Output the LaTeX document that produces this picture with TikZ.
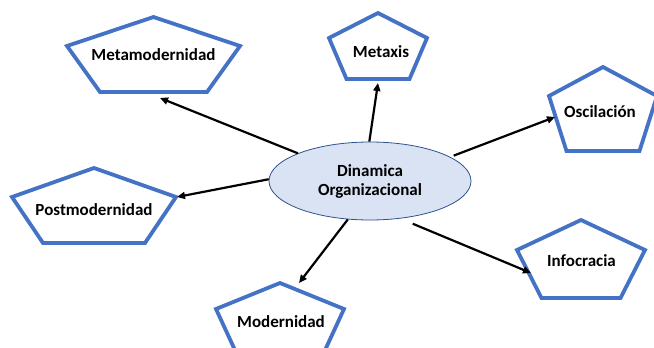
\documentclass[tikz,border=0pt]{standalone}
\usepackage{fontspec}
\setmainfont{Carlito}
\usetikzlibrary{arrows.meta,shapes.geometric}
\definecolor{pentblue}{HTML}{4472C4}
\definecolor{ellfill}{HTML}{DAE3F3}
\definecolor{elldraw}{HTML}{2F528F}
\tikzset{
  pentline/.style={draw=pentblue, line width=3.8pt, line join=miter},
  lbl/.style={font=\fontsize{17}{19}\selectfont\bfseries, text=black, inner sep=0pt},
  conn/.style={line width=2.2pt, -{Triangle[length=8pt,width=7pt]}},
}
% #1 cx, #2 top y, #3 side y, #4 side half width, #5 bottom y, #6 bottom half width
\newcommand{\pentpath}[6]{%
  \draw[pentline] (#1,#2) -- (#1+#4,#3) -- (#1+#6,#5) -- (#1-#6,#5) -- (#1-#4,#3) -- cycle;}
\begin{document}
\begin{tikzpicture}[x=1pt,y=-1pt]
\useasboundingbox (0,0) rectangle (654,348);
\clip (0,0) rectangle (654,348);
% pentagons
\pentpath{153.5}{17}{46}{86.5}{92}{53.5}
\pentpath{378}{13}{38}{49}{79}{31.5}
\pentpath{603}{67}{96}{54}{151}{36.5}
\pentpath{94}{168}{197}{82}{243}{51}
\pentpath{280}{283}{309}{64}{361}{40}
\pentpath{581}{220}{250}{64}{298}{39.5}
% labels
\node[lbl] (meta) at (153.5,55) {Metamodernidad};
\node[lbl] (metaxis) at (381,52) {Metaxis};
\node[lbl] (osc) at (600,112) {Oscilación};
\node[lbl] (post) at (94,210) {Postmodernidad};
\node[lbl] (mod) at (281,322) {Modernidad};
\node[lbl] (info) at (581.5,261) {Infocracia};
% center ellipse
\node[ellipse, draw=elldraw, fill=ellfill, line width=0.8pt,
      minimum width=202pt, minimum height=78pt, inner sep=0pt,
      align=center, lbl] (c) at (370,181) {Dinamica\\Organizacional};
% arrow ends
\coordinate (eMeta) at (160,98);
\coordinate (eMetaxis) at (378,83);
\coordinate (eOsc) at (555,117);
\coordinate (ePost) at (177,197);
\coordinate (eMod) at (299,283);
\coordinate (eInfo) at (531,273);
% connectors
\draw[conn] (c.159) -- (eMeta);
\draw[conn] (c.91.5) -- (eMetaxis);
\draw[conn] ([shift={(4,-1)}]c.17) -- (eOsc);
\draw[conn] (c.179) -- (ePost);
\draw[conn] (c.240.7) -- (eMod);
\draw[conn] ([shift={(6,6)}]c.315.7) -- (eInfo);
\end{tikzpicture}
\end{document}
